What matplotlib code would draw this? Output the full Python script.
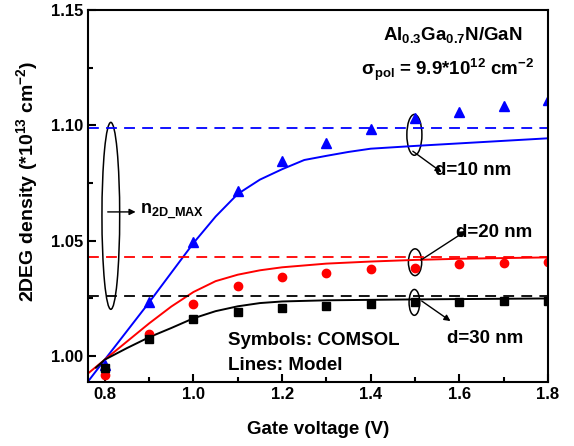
import matplotlib
matplotlib.use("Agg")
import matplotlib.pyplot as plt
from matplotlib.patches import Ellipse

plt.rcParams['font.family'] = ['Liberation Sans', 'DejaVu Sans']
plt.rcParams['font.weight'] = 'bold'
plt.rcParams['mathtext.fontset'] = 'custom'
plt.rcParams['mathtext.rm'] = 'Liberation Sans:bold'
plt.rcParams['mathtext.it'] = 'Liberation Sans:bold'
plt.rcParams['mathtext.bf'] = 'Liberation Sans:bold'

# COMSOL symbols
vg = [0.8, 0.9, 1.0, 1.1, 1.2, 1.3, 1.4, 1.5, 1.6, 1.7, 1.8]
comsol_10 = [0.996, 1.0233, 1.0496, 1.0716, 1.0845, 1.0922, 1.0983, 1.103, 1.106, 1.1086, 1.1108]
comsol_20 = [0.9918, 1.0095, 1.0228, 1.0306, 1.0341, 1.0362, 1.0379, 1.0384, 1.0401, 1.0405, 1.041]
comsol_30 = [0.9948, 1.0073, 1.016, 1.019, 1.0207, 1.0216, 1.0224, 1.0233, 1.0233, 1.0237, 1.0237]

# Model lines
vg_m10 = [0.762, 0.8, 0.9, 1.0, 1.05, 1.1, 1.15, 1.2, 1.25, 1.3, 1.35, 1.4, 1.5, 1.6, 1.7, 1.8]
model_10 = [0.989, 0.9985, 1.0233, 1.049, 1.0605, 1.0703, 1.0765, 1.081, 1.085, 1.0868, 1.0885, 1.0899, 1.0911, 1.0922, 1.0933, 1.0944]
vg_m20 = [0.762, 0.8, 0.9, 0.95, 1.0, 1.05, 1.1, 1.15, 1.2, 1.3, 1.4, 1.5, 1.6, 1.7, 1.8]
model_20 = [0.9925, 0.9985, 1.0142, 1.0215, 1.0278, 1.0325, 1.0353, 1.0372, 1.0385, 1.0401, 1.041, 1.0417, 1.0422, 1.0425, 1.0428]
vg_m30 = [0.78, 0.8, 0.85, 0.9, 0.95, 1.0, 1.05, 1.1, 1.15, 1.2, 1.3, 1.5, 1.8]
model_30 = [0.995, 0.9985, 1.0035, 1.0082, 1.0122, 1.0164, 1.0195, 1.0216, 1.023, 1.0237, 1.0242, 1.0246, 1.025]

# n2D_MAX levels
nmax_10 = 1.099
nmax_20 = 1.0431
nmax_30 = 1.0259

fig = plt.figure(figsize=(5.74, 4.46), dpi=100)
ax = fig.add_axes([0.1533, 0.1435, 0.8014, 0.8341])

blue = '#0000ff'
red = '#ff0000'
black = '#000000'

ax.plot(vg_m10, model_10, color=blue, lw=1.4)
ax.plot(vg_m20, model_20, color=red, lw=1.4)
ax.plot(vg_m30, model_30, color=black, lw=1.4)

ax.axhline(nmax_10, color=blue, lw=1.3, ls=(0, (6, 4)))
ax.axhline(nmax_20, color=red, lw=1.3, ls=(0, (6, 4)))
ax.axhline(nmax_30, color=black, lw=1.3, ls=(0, (6, 4)))

ax.plot(vg, comsol_10, ls='none', marker='^', color=blue, ms=7.5)
ax.plot(vg, comsol_20, ls='none', marker='o', color=red, ms=6)
ax.plot(vg, comsol_30, ls='none', marker='s', color=black, ms=5.5)

ax.set_xlim(0.762, 1.8)
ax.set_ylim(0.9888, 1.15)
ax.set_xticks([0.8, 1.0, 1.2, 1.4, 1.6, 1.8])
ax.set_xticks([0.9, 1.1, 1.3, 1.5, 1.7], minor=True)
ax.set_yticks([1.00, 1.05, 1.10, 1.15])
ax.set_yticks([1.025, 1.075, 1.125], minor=True)
ax.set_xticklabels(['0.8', '1.0', '1.2', '1.4', '1.6', '1.8'])
ax.set_yticklabels(['1.00', '1.05', '1.10', '1.15'])
ax.tick_params(which='both', direction='in', width=1.5, labelsize=12)
ax.tick_params(which='major', length=6)
ax.tick_params(which='minor', length=3.5)
for s in ax.spines.values():
    s.set_linewidth(1.5)

ax.set_xlabel('Gate voltage (V)', fontsize=13.5, fontweight='bold', labelpad=14)
ax.set_ylabel('2DEG density (*10$^{13}$ cm$^{-2}$)', fontsize=14, fontweight='bold', labelpad=4)
ax.yaxis.set_label_coords(-0.105, 0.54)

# Ellipses
ax.add_patch(Ellipse((0.8135, 1.0608), 0.04, 0.081, fill=False, ec='black', lw=1.1))
ax.add_patch(Ellipse((1.4985, 1.0959), 0.034, 0.0177, fill=False, ec='black', lw=1.1))
ax.add_patch(Ellipse((1.5, 1.0407), 0.03, 0.0116, fill=False, ec='black', lw=1.1))
ax.add_patch(Ellipse((1.4985, 1.0233), 0.024, 0.0112, fill=False, ec='black', lw=1.1))

arr = dict(arrowstyle='-|>', color='black', lw=1.0, mutation_scale=9, shrinkA=0, shrinkB=0)
ax.annotate('', xy=(0.8695, 1.0625), xytext=(0.8065, 1.0625), arrowprops=arr)
ax.text(0.879, 1.0625, 'n$_{2D\\_MAX}$', fontsize=13, va='center', ha='left')

ax.annotate('', xy=(1.56, 1.0797), xytext=(1.495, 1.0888), arrowprops=arr)
ax.text(1.544, 1.0805, 'd=10 nm', fontsize=13.5, va='center', ha='left')

ax.annotate('', xy=(1.615, 1.0543), xytext=(1.513, 1.0416), arrowprops=arr)
ax.text(1.593, 1.0535, 'd=20 nm', fontsize=13.5, va='center', ha='left')

ax.annotate('', xy=(1.58, 1.0152), xytext=(1.515, 1.0239), arrowprops=arr)
ax.text(1.571, 1.0078, 'd=30 nm', fontsize=13.5, va='center', ha='left')

ax.text(1.7416, 1.139, 'Al$_{0.3}$Ga$_{0.7}$N/GaN', fontsize=13.5, ha='right', va='center')
ax.text(1.7685, 1.124, 'σ$_{pol}$ = 9.9*10$^{12}$ cm$^{-2}$', fontsize=13.5, ha='right', va='center')

ax.text(1.079, 1.0069, 'Symbols: COMSOL', fontsize=13.5, ha='left', va='center')
ax.text(1.079, 0.9961, 'Lines: Model', fontsize=13.5, ha='left', va='center')

fig.savefig('out.png', dpi=100)
